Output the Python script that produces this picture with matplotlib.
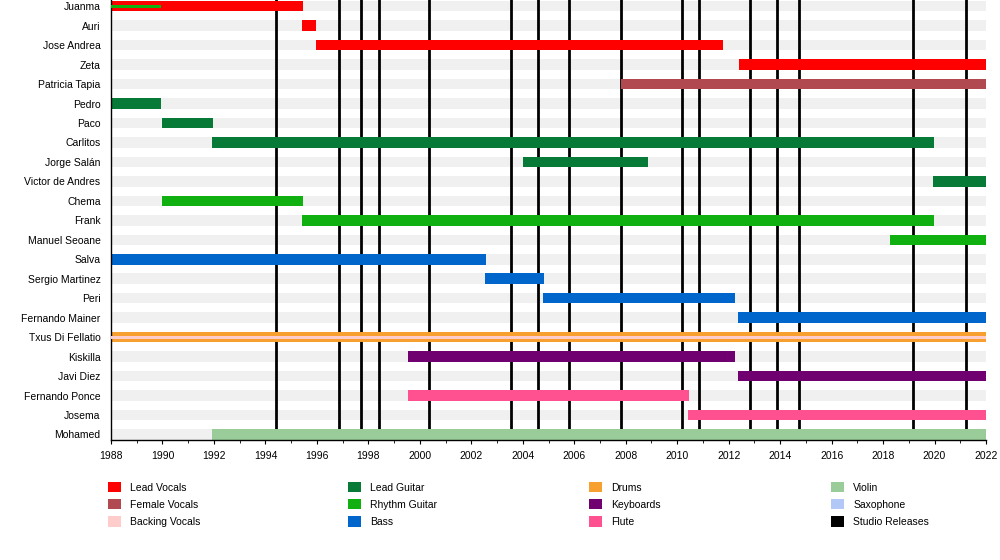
"""Band members timeline (EasyTimeline style), saved to out.png."""

import matplotlib.pyplot as plt
from matplotlib.patches import Patch
from matplotlib.ticker import MultipleLocator

plt.rcParams["font.family"] = ["Liberation Sans", "DejaVu Sans"]

START, END = 1988, 2022

MEMBERS = [
    "Juanma", "Auri", "Jose Andrea", "Zeta", "Patricia Tapia", "Pedro", "Paco",
    "Carlitos", "Jorge Salán", "Victor de Andres", "Chema", "Frank",
    "Manuel Seoane", "Salva", "Sergio Martinez", "Peri", "Fernando Mainer",
    "Txus Di Fellatio", "Kiskilla", "Javi Diez", "Fernando Ponce", "Josema",
    "Mohamed",
]

ROLE_COLORS = {
    "Lead Vocals": "#ff0000",
    "Female Vocals": "#b04a50",
    "Backing Vocals": "#ffcccc",
    "Lead Guitar": "#087a38",
    "Rhythm Guitar": "#10b010",
    "Bass": "#0066cc",
    "Drums": "#f7a030",
    "Keyboards": "#700070",
    "Flute": "#ff5090",
    "Violin": "#99cc99",
    "Saxophone": "#b4c8f8",
    "Studio Releases": "#000000",
}

# main role of each member: (member, role, from, to)
STINTS = [
    ("Juanma", "Lead Vocals", 1988.0, 1995.46),
    ("Auri", "Lead Vocals", 1995.42, 1995.96),
    ("Jose Andrea", "Lead Vocals", 1995.96, 2011.78),
    ("Zeta", "Lead Vocals", 2012.4, 2022.0),
    ("Patricia Tapia", "Female Vocals", 2007.8, 2022.0),
    ("Pedro", "Lead Guitar", 1988.0, 1989.94),
    ("Paco", "Lead Guitar", 1990.0, 1991.96),
    ("Carlitos", "Lead Guitar", 1991.92, 2019.98),
    ("Jorge Salán", "Lead Guitar", 2004.0, 2008.86),
    ("Victor de Andres", "Lead Guitar", 2019.94, 2022.0),
    ("Chema", "Rhythm Guitar", 1990.0, 1995.46),
    ("Frank", "Rhythm Guitar", 1995.42, 2019.98),
    ("Manuel Seoane", "Rhythm Guitar", 2018.26, 2022.0),
    ("Salva", "Bass", 1988.0, 2002.57),
    ("Sergio Martinez", "Bass", 2002.53, 2004.82),
    ("Peri", "Bass", 2004.78, 2012.24),
    ("Fernando Mainer", "Bass", 2012.36, 2022.0),
    ("Txus Di Fellatio", "Drums", 1988.0, 2022.0),
    ("Kiskilla", "Keyboards", 1999.54, 2012.24),
    ("Javi Diez", "Keyboards", 2012.36, 2022.0),
    ("Fernando Ponce", "Flute", 1999.54, 2010.46),
    ("Josema", "Flute", 2010.42, 2022.0),
    ("Mohamed", "Violin", 1991.92, 2022.0),
]

# secondary roles, drawn as a thin stripe inside the main bar
SECONDARY = [
    ("Juanma", "Rhythm Guitar", 1988.0, 1989.94),
    ("Txus Di Fellatio", "Backing Vocals", 1988.0, 2022.0),
]

STUDIO_RELEASES = [
    1994.41, 1996.86, 1997.71, 1998.41, 2000.35, 2003.54, 2004.59, 2005.79,
    2007.81, 2010.18, 2010.84, 2012.82, 2013.87, 2014.73, 2019.16, 2021.22,
]

# left edge of each legend column, in figure pixels
LEGEND_COLUMNS_X = [108, 348, 589, 831]


def main():
    fig = plt.figure(figsize=(10, 5.6), dpi=100)
    ax = fig.add_axes([0.111, 0.2134, 0.875, 0.7866])

    row = {name: i for i, name in enumerate(MEMBERS)}
    bar_h = 0.54

    # light grey stripe behind every row
    ax.barh(range(len(MEMBERS)), END - START, left=START, height=bar_h,
            color="#f0f0f0", zorder=0)

    for year in STUDIO_RELEASES:
        ax.axvline(year, color="black", linewidth=2.0, zorder=1)

    for name, role, start, end in STINTS:
        ax.barh(row[name], end - start, left=start, height=bar_h,
                color=ROLE_COLORS[role], zorder=2)

    for name, role, start, end in SECONDARY:
        ax.barh(row[name], end - start, left=start, height=bar_h * 0.3,
                color=ROLE_COLORS[role], zorder=3)

    ax.set_xlim(START, END)
    ax.set_ylim(len(MEMBERS) - 1 + 0.31, -0.32)
    ax.set_yticks(range(len(MEMBERS)))
    ax.set_yticklabels(MEMBERS)
    ax.xaxis.set_major_locator(MultipleLocator(2))
    ax.xaxis.set_minor_locator(MultipleLocator(1))
    ax.tick_params(axis="y", length=0, pad=7.5, labelsize=7.5)
    ax.tick_params(axis="x", which="major", length=3.2, labelsize=7.5, pad=4.5)
    ax.tick_params(axis="x", which="minor", length=2)
    for side in ("top", "right"):
        ax.spines[side].set_visible(False)
    ax.spines["left"].set_linewidth(1.0)
    ax.spines["bottom"].set_linewidth(1.0)

    # legend: four columns of three entries each
    handles = [Patch(facecolor=c, edgecolor="none", label=r) for r, c in ROLE_COLORS.items()]
    for i, x in enumerate(LEGEND_COLUMNS_X):
        fig.legend(handles=handles[i * 3:i * 3 + 3], loc="upper left",
                   bbox_to_anchor=(x / 1000, 1 - 482 / 560),
                   frameon=False, fontsize=7.5, handlelength=1.2, handleheight=1.15,
                   handletextpad=0.95, labelspacing=0.62, borderpad=0,
                   borderaxespad=0)

    fig.savefig("out.png", dpi=100)


if __name__ == "__main__":
    main()
